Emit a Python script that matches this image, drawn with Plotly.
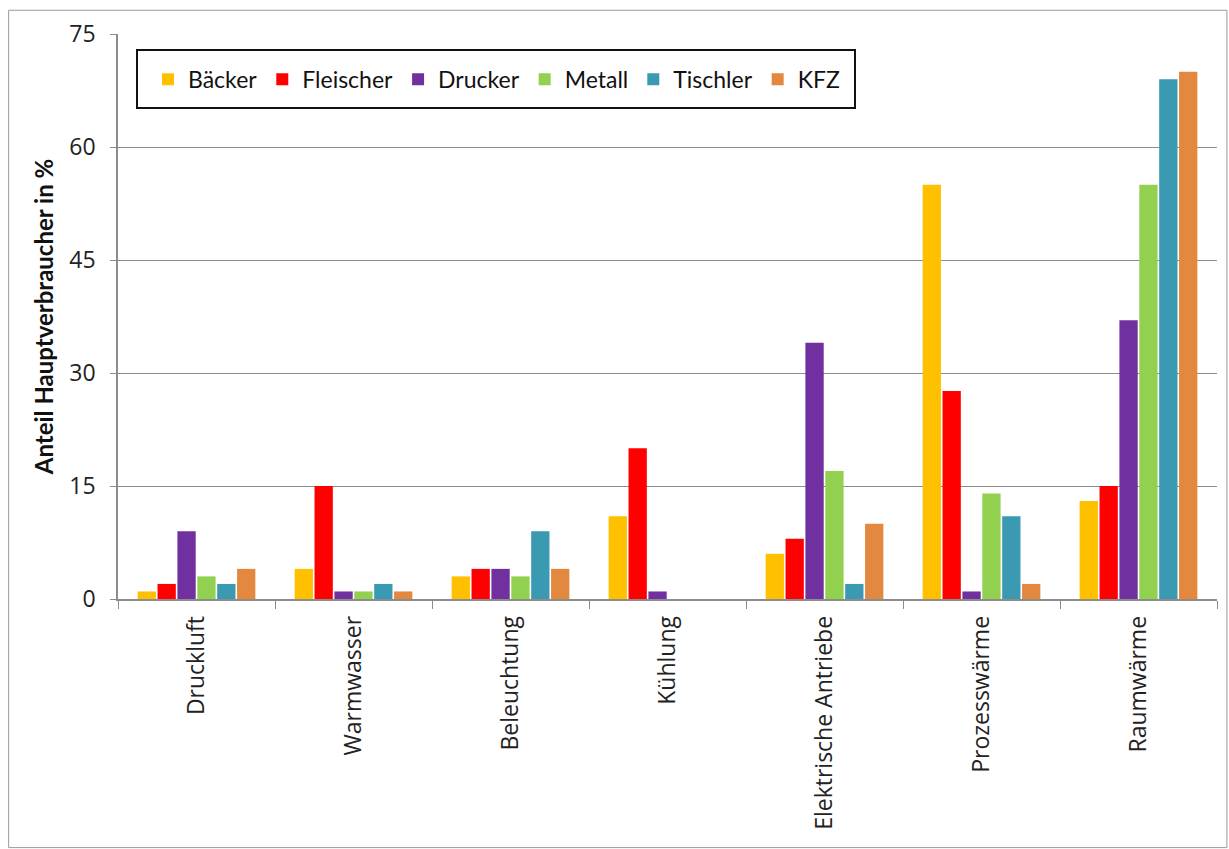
import plotly.graph_objects as go

categories = ["Druckluft", "Warmwasser", "Beleuchtung", "Kühlung",
              "Elektrische Antriebe", "Prozesswärme", "Raumwärme"]

baecker = [1, 4, 3, 11, 6, 55, 13]
fleischer = [2, 15, 4, 20, 8, 27.6, 15]
drucker = [9, 1, 4, 1, 34, 1, 37]
metall = [3, 1, 3, 0, 17, 14, 55]
tischler = [2, 2, 9, 0, 2, 11, 69]
kfz = [4, 1, 4, 0, 10, 2, 70]

y_ticks = [0, 15, 30, 45, 60, 75]

series = [
    ("Bäcker", baecker, "#FFC000"),
    ("Fleischer", fleischer, "#FF0000"),
    ("Drucker", drucker, "#7030A0"),
    ("Metall", metall, "#92D050"),
    ("Tischler", tischler, "#3A9AB2"),
    ("KFZ", kfz, "#E3893F"),
]

fig = go.Figure()
for name, vals, color in series:
    fig.add_trace(go.Bar(name=name, x=categories, y=vals,
                         marker=dict(color=color, line=dict(width=0))))

fig.update_layout(
    width=1229, height=849,
    paper_bgcolor="white", plot_bgcolor="white",
    margin=dict(l=118, r=12, t=34, b=250),
    barmode="group", bargap=0.24, bargroupgap=0.08,
    font=dict(family="Open Sans", color="#222222"),
    legend=dict(
        orientation="h", x=0.0273, y=0.920, xanchor="left", yanchor="middle",
        borderwidth=0, bgcolor="rgba(0,0,0,0)",
        font=dict(family="Lato", size=23, color="#111111"),
        itemwidth=30, tracegroupgap=0,
    ),
    showlegend=True,
)

fig.update_xaxes(
    type="category", showline=True, linecolor="#8c8c8c", linewidth=1.5,
    ticks="outside", tickson="boundaries", ticklen=8, tickcolor="#8c8c8c",
    tickangle=-90, ticklabelstandoff=6,
    tickfont=dict(family="Open Sans", size=23, color="#222222"),
    showgrid=False,
)
fig.update_yaxes(
    range=[0, 75], tickvals=y_ticks, showline=True, linecolor="#8c8c8c",
    linewidth=1.5, ticks="outside", ticklen=6, tickcolor="#8c8c8c",
    ticklabelstandoff=10,
    showgrid=True, gridcolor="#8c8c8c", gridwidth=1.3,
    tickfont=dict(family="Open Sans", size=23, color="#222222"),
    title=dict(text="<b>Anteil Hauptverbraucher in %</b>",
               font=dict(family="Lato", size=24, color="#111111"), standoff=9),
    zeroline=False,
)

# legend frame
fig.add_shape(type="rect", xref="paper", yref="paper",
              x0=(137 - 118) / 1099, x1=(855 - 118) / 1099,
              y0=(599 - 108) / 565, y1=(599 - 50) / 565,
              line=dict(color="#111111", width=2), fillcolor="white", layer="above")

# thin frame around the whole chart
fig.add_shape(type="rect", xref="paper", yref="paper",
              x0=-0.0995, x1=1.009, y0=-0.44, y1=1.042,
              line=dict(color="#9a9a9a", width=1))

fig.write_html("out.html")
